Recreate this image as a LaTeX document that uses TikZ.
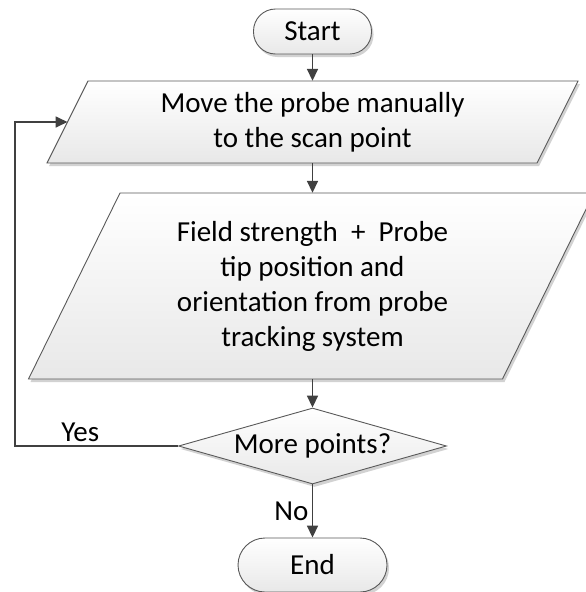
\documentclass[tikz,border=0pt]{standalone}
\usepackage{fontspec}
\setmainfont{Carlito}
\usetikzlibrary{arrows.meta,shapes.geometric,shadows}
\begin{document}
\begin{tikzpicture}[x=1pt,y=-1pt,
  shapebox/.style={draw=black!65, line width=0.9pt, top color=white, bottom color=black!9,
    drop shadow={shadow xshift=2pt, shadow yshift=-3pt, fill=black!22, opacity=0.8}},
  term/.style={shapebox, rectangle, inner sep=0pt},
  arr/.style={draw=black!75, line width=1.7pt, -{Triangle[length=12pt,width=11pt]}},
  lbl/.style={font=\fontsize{29}{35}\selectfont, text=black, align=center}
]
\useasboundingbox (0,0) rectangle (586,592);

\node[term, rounded corners=22pt, minimum width=118pt, minimum height=45pt, lbl] (start) at (312.5,31.5) {Start};

\path[shapebox] (88,81) -- (578,81) -- (537,163) -- (47,163) -- cycle;
\node[lbl, minimum height=82pt, inner sep=0pt] (p1) at (312.5,122) {Move the probe manually\\to the scan point};
\coordinate (p1w) at (67.5,122);

\path[shapebox] (120,193) -- (594,193) -- (502.5,379) -- (28.5,379) -- cycle;
\node[lbl, minimum height=186pt, inner sep=0pt] (p2) at (312.5,286) {Field strength\ \ +\ \ Probe\\tip position and\\orientation from probe\\tracking system};

\node[shapebox, diamond, shape aspect=3.5, minimum width=268pt, minimum height=76pt, inner sep=0pt, lbl] (dec) at (312.5,446) {More points?};

\node[term, rounded corners=27pt, minimum width=149pt, minimum height=54pt, lbl] (stop) at (312.5,565) {End};

\draw[arr] (start) -- (p1);
\draw[arr] (p1) -- (p2);
\draw[arr] (p2) -- (dec);
\draw[arr] (dec) -- node[lbl, left] {No} (stop);
\draw[arr] (dec.west) -- node[lbl, pos=0.6, above] {Yes} ++(-163,0) |- (p1w);
\end{tikzpicture}
\end{document}
